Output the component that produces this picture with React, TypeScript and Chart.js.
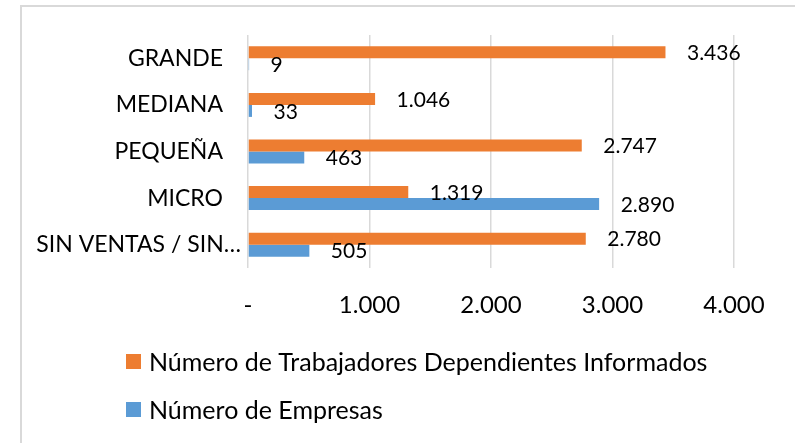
import React, { useEffect, useRef } from "react";
import { Chart, registerables } from "chart.js";

Chart.register(...registerables);

const categories = ["GRANDE", "MEDIANA", "PEQUEÑA", "MICRO", "SIN VENTAS / SIN…"];
const trabajadores = [3436, 1046, 2747, 1319, 2780];
const empresas = [9, 33, 463, 2890, 505];
const xTickValues = [0, 1000, 2000, 3000, 4000];
const seriesNames = [
  "Número de Trabajadores Dependientes Informados",
  "Número de Empresas",
];
const seriesColors = ["#ED7D31", "#5B9BD5"];

const FONT = "Lato";
const TEXT = "#000000";

const fmt = (v: number) =>
  v === 0 ? "-" : Math.round(v).toString().replace(/\B(?=(\d{3})+(?!\d))/g, ".");

const dataLabelPlugin = {
  id: "dataLabels",
  afterDatasetsDraw(chart: any) {
    const ctx = chart.ctx;
    ctx.save();
    ctx.font = `21px ${FONT}`;
    ctx.fillStyle = TEXT;
    ctx.textAlign = "left";
    ctx.textBaseline = "middle";
    chart.data.datasets.forEach((ds: any, i: number) => {
      const meta = chart.getDatasetMeta(i);
      meta.data.forEach((el: any, j: number) => {
        ctx.fillText(fmt(ds.data[j]), el.x + 21.5, el.y + 1);
      });
    });
    ctx.restore();
  },
};

// category labels drawn at the y scale's tick positions (Excel places the
// truncated last label slightly further right)
const categoryLabelPlugin = {
  id: "categoryLabels",
  afterDraw(chart: any) {
    const ctx = chart.ctx;
    const yScale = chart.scales.y;
    const right = chart.chartArea.left - 25;
    ctx.save();
    ctx.font = `23px ${FONT}`;
    ctx.fillStyle = TEXT;
    ctx.textAlign = "right";
    ctx.textBaseline = "middle";
    (chart.data.labels as string[]).forEach((lab, i) => {
      const y = yScale.getPixelForTick(i);
      const truncated = lab.endsWith("…");
      ctx.fillText(lab, right + (truncated ? 18 : 0), y);
    });
    ctx.restore();
  },
};

const legendPlugin = {
  id: "customLegend",
  afterDraw(chart: any) {
    const ctx = chart.ctx;
    ctx.save();
    ctx.font = `25px ${FONT}`;
    ctx.textAlign = "left";
    ctx.textBaseline = "middle";
    const rowsY = [361.5, 409.5];
    chart.data.datasets.forEach((ds: any, i: number) => {
      const cy = rowsY[i];
      ctx.fillStyle = ds.backgroundColor;
      ctx.fillRect(126, cy - 7.5, 15, 15);
      ctx.fillStyle = TEXT;
      ctx.fillText(ds.label, 149, cy + 1);
    });
    ctx.restore();
  },
};

export default function App() {
  const ref = useRef<HTMLCanvasElement | null>(null);
  useEffect(() => {
    if (!ref.current) return;
    const chart = new Chart(ref.current, {
      type: "bar",
      data: {
        labels: categories,
        datasets: [
          {
            label: seriesNames[0],
            data: trabajadores,
            backgroundColor: seriesColors[0],
            categoryPercentage: 0.515,
            barPercentage: 1,
          },
          {
            label: seriesNames[1],
            data: empresas,
            backgroundColor: seriesColors[1],
            categoryPercentage: 0.515,
            barPercentage: 1,
          },
        ],
      },
      options: {
        indexAxis: "y",
        responsive: false,
        animation: false,
        layout: { padding: { left: 0, top: 35, right: 61, bottom: 125 } },
        scales: {
          x: {
            min: 0,
            max: 4000,
            afterBuildTicks: (scale: any) => {
              scale.ticks = xTickValues.map((v) => ({ value: v }));
            },
            afterFit: (scale: any) => {
              scale.height = 50;
            },
            grid: { color: "#d9d9d9", lineWidth: 1.5, drawTicks: false },
            border: { display: false },
            ticks: {
              padding: 23,
              color: TEXT,
              font: { family: FONT, size: 24 },
              callback: (v: any) => fmt(Number(v)),
            },
          },
          y: {
            afterFit: (scale: any) => {
              scale.width = 248;
            },
            grid: { display: false, drawTicks: false },
            border: { display: false },
            ticks: { display: false },
          },
        },
        plugins: {
          legend: { display: false },
          tooltip: { enabled: false },
        },
      },
      plugins: [dataLabelPlugin, categoryLabelPlugin, legendPlugin],
    });
    return () => chart.destroy();
  }, []);

  return (
    <div
      style={{
        position: "absolute",
        left: 0,
        top: 0,
        width: 795,
        height: 443,
        overflow: "hidden",
        background: "#ffffff",
      }}
    >
      <div
        style={{
          position: "absolute",
          left: 20,
          top: 5,
          width: 800,
          height: 460,
          border: "2px solid #d9d9d9",
          boxSizing: "border-box",
        }}
      />
      <canvas
        ref={ref}
        width={795}
        height={443}
        style={{ position: "absolute", left: 0, top: 0 }}
      />
    </div>
  );
}
